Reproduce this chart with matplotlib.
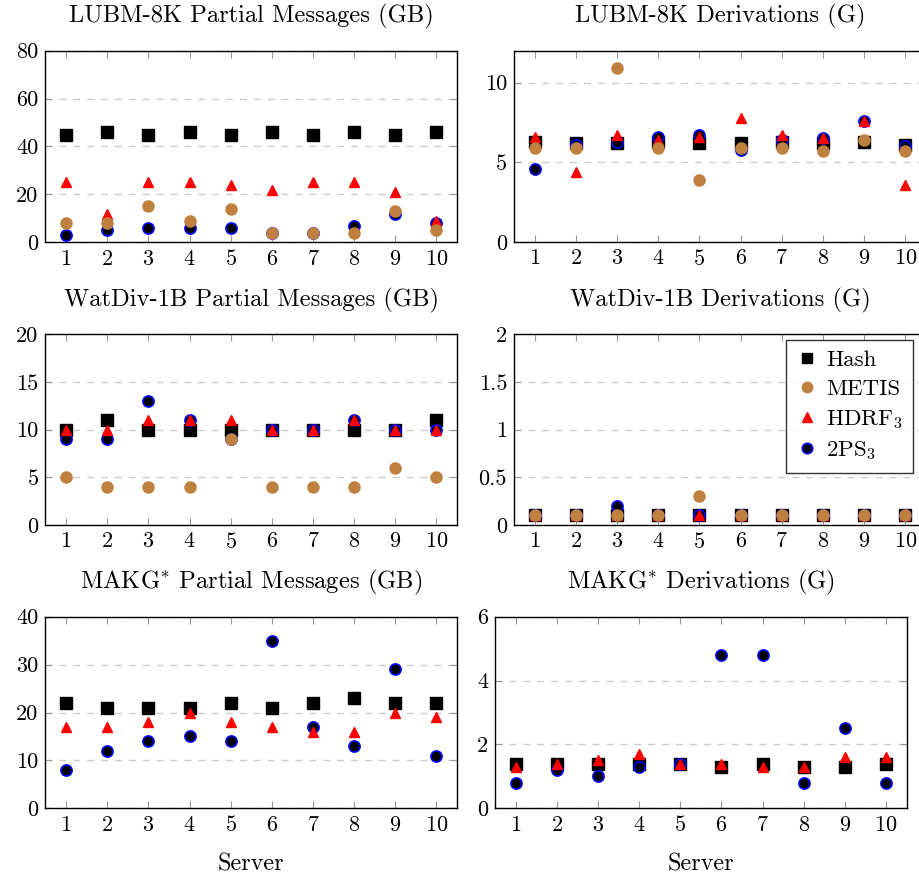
#!/usr/bin/env python3
"""Per-server partial messages and derivations for the partitioning methods."""

import matplotlib

matplotlib.use("Agg")
import matplotlib.pyplot as plt
from matplotlib.lines import Line2D
from matplotlib.ticker import FuncFormatter, MultipleLocator

plt.rcParams["font.family"] = "serif"
plt.rcParams["font.serif"] = ["cmr10", "DejaVu Serif"]
plt.rcParams["mathtext.fontset"] = "cm"
plt.rcParams["axes.formatter.use_mathtext"] = True
plt.rcParams["font.size"] = 16

servers = list(range(1, 11))

# LUBM-8K
lubm_msg_hash = [45, 46, 45, 46, 45, 46, 45, 46, 45, 46]
lubm_msg_metis = [8, 8, 15, 9, 14, 4, 4, 4, 13, 5]
lubm_msg_hdrf = [25, 12, 25, 25, 24, 22, 25, 25, 21, 9]
lubm_msg_2ps = [3, 5, 6, 6, 6, 4, 4, 7, 12, 8]

lubm_der_hash = [6.3, 6.2, 6.2, 6.3, 6.2, 6.2, 6.3, 6.2, 6.3, 6.1]
lubm_der_metis = [5.9, 5.9, 10.9, 5.9, 3.9, 5.9, 5.9, 5.7, 6.4, 5.7]
lubm_der_hdrf = [6.6, 4.4, 6.7, 6.4, 6.6, 7.8, 6.7, 6.5, 7.6, 3.6]
lubm_der_2ps = [4.6, 6.1, 6.3, 6.6, 6.7, 5.8, 6.4, 6.5, 7.6, 6.0]

# WatDiv-1B
watdiv_msg_hash = [10, 11, 10, 10, 10, 10, 10, 10, 10, 11]
watdiv_msg_metis = [5, 4, 4, 4, 9, 4, 4, 4, 6, 5]
watdiv_msg_hdrf = [10, 10, 11, 11, 11, 10, 10, 11, 10, 10]
watdiv_msg_2ps = [9, 9, 13, 11, 9, 10, 10, 11, 10, 10]

watdiv_der_hash = [0.1, 0.1, 0.1, 0.1, 0.1, 0.1, 0.1, 0.1, 0.1, 0.1]
watdiv_der_metis = [0.1, 0.1, 0.1, 0.1, 0.3, 0.1, 0.1, 0.1, 0.1, 0.1]
watdiv_der_hdrf = [0.1, 0.1, 0.1, 0.1, 0.1, 0.1, 0.1, 0.1, 0.1, 0.1]
watdiv_der_2ps = [0.1, 0.1, 0.2, 0.1, 0.1, 0.1, 0.1, 0.1, 0.1, 0.1]

# MAKG* (no METIS run)
makg_msg_hash = [22, 21, 21, 21, 22, 21, 22, 23, 22, 22]
makg_msg_hdrf = [17, 17, 18, 20, 18, 17, 16, 16, 20, 19]
makg_msg_2ps = [8, 12, 14, 15, 14, 35, 17, 13, 29, 11]

makg_der_hash = [1.4, 1.4, 1.4, 1.4, 1.4, 1.3, 1.4, 1.3, 1.3, 1.4]
makg_der_hdrf = [1.3, 1.4, 1.5, 1.7, 1.4, 1.4, 1.3, 1.3, 1.6, 1.6]
makg_der_2ps = [0.8, 1.2, 1.0, 1.3, 1.4, 4.8, 4.8, 0.8, 2.5, 0.8]

BROWN = "#bf8040"

STYLES = {
    "Hash": dict(marker="s", color="black", markeredgecolor="black", markersize=8),
    "2PS$_3$": dict(marker="o", color="black", markeredgecolor="blue", markersize=8, markeredgewidth=1.2),
    "HDRF$_3$": dict(marker="^", color="red", markeredgecolor="red", markersize=7.5),
    "METIS": dict(marker="o", color=BROWN, markeredgecolor=BROWN, markersize=8),
}

# title, series (draw order), ylim top, y step, axes box in px (left, top, width, height)
panels = [
    ("LUBM-8K Partial Messages (GB)",
     {"Hash": lubm_msg_hash, "2PS$_3$": lubm_msg_2ps, "HDRF$_3$": lubm_msg_hdrf, "METIS": lubm_msg_metis},
     80, 20, (45.5, 50.7, 411.5, 191.6)),
    ("LUBM-8K Derivations (G)",
     {"Hash": lubm_der_hash, "2PS$_3$": lubm_der_2ps, "HDRF$_3$": lubm_der_hdrf, "METIS": lubm_der_metis},
     12, 5, (514, 50.7, 412, 191.3)),
    ("WatDiv-1B Partial Messages (GB)",
     {"Hash": watdiv_msg_hash, "2PS$_3$": watdiv_msg_2ps, "HDRF$_3$": watdiv_msg_hdrf, "METIS": watdiv_msg_metis},
     20, 5, (45.5, 334.3, 411.5, 190.7)),
    ("WatDiv-1B Derivations (G)",
     {"Hash": watdiv_der_hash, "2PS$_3$": watdiv_der_2ps, "HDRF$_3$": watdiv_der_hdrf, "METIS": watdiv_der_metis},
     2, 0.5, (514, 334.3, 412, 190.7)),
    ("MAKG$^{*}$ Partial Messages (GB)",
     {"Hash": makg_msg_hash, "2PS$_3$": makg_msg_2ps, "HDRF$_3$": makg_msg_hdrf},
     40, 10, (45.5, 616.7, 411.5, 191.6)),
    ("MAKG$^{*}$ Derivations (G)",
     {"Hash": makg_der_hash, "2PS$_3$": makg_der_2ps, "HDRF$_3$": makg_der_hdrf},
     6, 2, (495, 616.7, 411.7, 191.6)),
]

W, H = 920, 882
fig = plt.figure(figsize=(W / 100, H / 100), dpi=100)

for i, (title, series, ytop, ystep, (l, t, w, h)) in enumerate(panels):
    ax = fig.add_axes([l / W, 1 - (t + h) / H, w / W, h / H])
    for name, vals in series.items():
        ax.plot(servers, vals, linestyle="none", zorder=3, clip_on=False, **STYLES[name])
    ax.set_xlim(0.5, 10.5)
    ax.set_ylim(0, ytop)
    ax.set_xticks(servers)
    ax.yaxis.set_major_locator(MultipleLocator(ystep))
    ax.yaxis.set_major_formatter(FuncFormatter(lambda v, _: f"{v:g}"))
    ax.tick_params(direction="in", length=5, color="#999999", top=True, right=True, pad=5)
    ax.grid(axis="y", color="#cccccc", linestyle=(0, (5, 5)), linewidth=1.0)
    ax.set_axisbelow(True)
    for sp in ax.spines.values():
        sp.set_linewidth(1.0)
    ax.set_title(title, pad=20, fontsize=17.7)
    if i >= 4:
        ax.set_xlabel("Server", labelpad=13, fontsize=17.5)
    if i == 3:
        order = ["Hash", "METIS", "HDRF$_3$", "2PS$_3$"]
        handles = [Line2D([], [], linestyle="none", **dict(STYLES[n], markersize=7.5)) for n in order]
        leg = ax.legend(handles, order, loc="upper right", bbox_to_anchor=(0.968, 0.97),
                        frameon=True, fancybox=False, handletextpad=0.3, handlelength=1.0,
                        borderpad=0.45, labelspacing=0.38, borderaxespad=0, fontsize=16.5)
        leg.get_frame().set_edgecolor("black")
        leg.get_frame().set_linewidth(1.0)

fig.savefig("out.png", dpi=100)
